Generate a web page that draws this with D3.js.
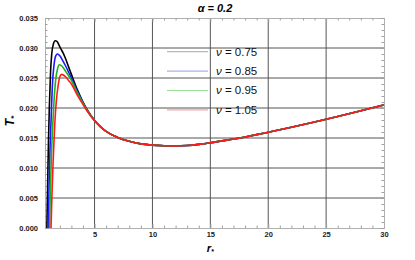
<!DOCTYPE html>
<html>
<head>
<meta charset="utf-8">
<script src="https://cdn.jsdelivr.net/npm/d3@7"></script>
<style>
  body { margin: 0; background: #fff; }
  #chart { width: 415px; height: 260px; }
  text { font-family: "Liberation Sans", Arial, sans-serif; }
</style>
</head>
<body>
<div id="chart"></div>
<script>

// values
var nuLabels = ["0.75", "0.85", "0.95", "1.05"];
var colors = ["#000000", "#1a1aff", "#1db31d", "#ff1a1a"];
var legendColors = ["#b8b8b8", "#aab0f0", "#98e098", "#f4a8a8"];

// near-horizon part of each curve
var rHead = [
  [0.88, 0.95, 1.02, 1.10, 1.20, 1.30, 1.45, 1.60, 1.75, 1.90, 2.05, 2.25, 2.50, 2.75, 3.00, 3.50, 4.00, 4.50],
  [1.00, 1.07, 1.15, 1.24, 1.35, 1.50, 1.65, 1.80, 2.00, 2.25, 2.50, 2.75, 3.00, 3.50, 4.00, 4.50],
  [1.11, 1.18, 1.27, 1.39, 1.50, 1.65, 1.80, 1.95, 2.10, 2.30, 2.50, 2.75, 3.00, 3.50, 4.00, 4.50],
  [1.24, 1.32, 1.42, 1.56, 1.70, 1.85, 2.00, 2.15, 2.30, 2.50, 2.75, 3.00, 3.50, 4.00, 4.50]
];
var tHead = [
  [0, 0.0075, 0.0145, 0.0205, 0.0260, 0.0290, 0.0307, 0.0312, 0.0311, 0.0306, 0.0300, 0.0293, 0.0282, 0.0269, 0.0256, 0.0231, 0.0210, 0.0193],
  [0, 0.0070, 0.0130, 0.0178, 0.0235, 0.0272, 0.0287, 0.0290, 0.0287, 0.0279, 0.0270, 0.0260, 0.0250, 0.0228, 0.0209, 0.0192],
  [0, 0.0060, 0.0118, 0.0172, 0.0212, 0.0248, 0.0265, 0.0272, 0.0271, 0.0267, 0.0261, 0.0254, 0.0246, 0.0226, 0.0208, 0.0192],
  [0, 0.0055, 0.0110, 0.0172, 0.0212, 0.0237, 0.0252, 0.0256, 0.0255, 0.0252, 0.0246, 0.0240, 0.0222, 0.0206, 0.0191]
];

// common tail, all four curves coincide here
var rTail = [5, 5.5, 6, 7, 8, 9, 10, 11, 12, 13, 14, 15, 16, 17, 18, 19, 20, 22, 24, 26, 28, 30];
var tTail = [0.0179, 0.0169, 0.0161, 0.0151, 0.01445, 0.01402, 0.01382, 0.01372, 0.01368, 0.01376, 0.01394, 0.0142, 0.01452, 0.01483, 0.01518, 0.01556, 0.01596, 0.01678, 0.01766, 0.01858, 0.01955, 0.0205];

var xTicks = [5, 10, 15, 20, 25, 30];
var yTicks = [0, 0.005, 0.010, 0.015, 0.020, 0.025, 0.030, 0.035];

var margin = {top: 18, right: 31, bottom: 32, left: 45},
    width = 415 - margin.left - margin.right,
    height = 260 - margin.top - margin.bottom;

var svg = d3.select("#chart").append("svg")
    .attr("width", width + margin.left + margin.right)
    .attr("height", height + margin.top + margin.bottom)
  .append("g")
    .attr("transform", "translate(" + margin.left + "," + margin.top + ")");

var x = d3.scaleLinear().domain([0.72, 30]).range([0, width]),
    y = d3.scaleLinear().domain([0, 0.035]).range([height, 0]);

var xMinor = d3.range(1, 31).filter(function(d) { return d % 5 != 0; }),
    yMinor = d3.range(0, 36).filter(function(d) { return d % 5 != 0; }).map(function(d) { return d / 1000; });

// grid
svg.append("g").selectAll("line")
    .data(xTicks.slice(0, -1))
    .enter().append("line")
      .attr("x1", function(d) { return x(d); })
      .attr("x2", function(d) { return x(d); })
      .attr("y1", 0).attr("y2", height)
      .attr("stroke", "#555").attr("stroke-width", 1);

svg.append("g").selectAll("line")
    .data(yTicks.slice(1, -1))
    .enter().append("line")
      .attr("y1", function(d) { return y(d); })
      .attr("y2", function(d) { return y(d); })
      .attr("x1", 0).attr("x2", width)
      .attr("stroke", "#555").attr("stroke-width", 1);

// frame axes with inward ticks
function styleAxis(g) {
  g.select(".domain").attr("stroke", "#b0b0b0");
  g.selectAll(".tick line").attr("stroke", "#a0a0a0");
  g.selectAll(".tick text")
    .style("font-family", "Liberation Sans, Arial, sans-serif")
    .style("font-size", "7.5px")
    .style("font-weight", "bold")
    .attr("fill", "#222");
}

svg.append("g")
    .attr("transform", "translate(0," + height + ")")
    .call(d3.axisBottom(x).tickValues(xTicks).tickSize(-4).tickPadding(4).tickSizeOuter(0))
    .call(styleAxis);
svg.append("g")
    .attr("transform", "translate(0," + height + ")")
    .call(d3.axisBottom(x).tickValues(xMinor).tickSize(-2.5).tickFormat("").tickSizeOuter(0))
    .call(styleAxis);
svg.append("g")
    .call(d3.axisTop(x).tickValues(xTicks).tickSize(-4).tickFormat("").tickSizeOuter(0))
    .call(styleAxis);
svg.append("g")
    .call(d3.axisTop(x).tickValues(xMinor).tickSize(-2.5).tickFormat("").tickSizeOuter(0))
    .call(styleAxis);

svg.append("g")
    .call(d3.axisLeft(y).tickValues(yTicks).tickSize(-4).tickPadding(7).tickFormat(d3.format(".3f")).tickSizeOuter(0))
    .call(styleAxis);
svg.append("g")
    .call(d3.axisLeft(y).tickValues(yMinor).tickSize(-2.5).tickFormat("").tickSizeOuter(0))
    .call(styleAxis);
svg.append("g")
    .attr("transform", "translate(" + width + ",0)")
    .call(d3.axisRight(y).tickValues(yTicks).tickSize(-4).tickFormat("").tickSizeOuter(0))
    .call(styleAxis);
svg.append("g")
    .attr("transform", "translate(" + width + ",0)")
    .call(d3.axisRight(y).tickValues(yMinor).tickSize(-2.5).tickFormat("").tickSizeOuter(0))
    .call(styleAxis);

// curves
var line = d3.line()
    .x(function(d) { return x(d[0]); })
    .y(function(d) { return y(d[1]); })
    .curve(d3.curveMonotoneX);

var curves = rHead.map(function(rs, i) {
  var pts = rs.map(function(r, j) { return [r, tHead[i][j]]; });
  return pts.concat(rTail.map(function(r, j) { return [r, tTail[j]]; }));
});

svg.append("g").selectAll("path")
    .data(curves)
    .enter().append("path")
      .attr("d", line)
      .attr("fill", "none")
      .attr("stroke", function(d, i) { return colors[i]; })
      .attr("stroke-width", 1.6);

// legend
var legend = svg.append("g").selectAll("g")
    .data(nuLabels)
    .enter().append("g")
      .attr("transform", function(d, i) { return "translate(122," + (33.7 + i * 19.4) + ")"; });

legend.append("line")
    .attr("x1", 0).attr("x2", 41)
    .attr("stroke", function(d, i) { return legendColors[i]; })
    .attr("stroke-width", 1.2);

var lt = legend.append("text")
    .attr("x", 49).attr("y", 3.8)
    .attr("font-size", "11.5px")
    .attr("fill", "#111");
lt.append("tspan").attr("font-style", "italic").text("ν");
lt.append("tspan").text(function(d) { return " = " + d; });

// title and axis labels
svg.append("text")
    .attr("x", x(15.4)).attr("y", -6)
    .attr("text-anchor", "middle")
    .attr("font-size", "11px")
    .attr("font-weight", "bold")
    .attr("font-style", "italic")
    .text("α = 0.2");

var xl = svg.append("text")
    .attr("x", x(15)).attr("y", height + 24)
    .attr("text-anchor", "middle")
    .attr("font-size", "11px")
    .attr("font-weight", "bold")
    .attr("font-style", "italic");
xl.append("tspan").text("r");
xl.append("tspan").attr("font-size", "7px").attr("dy", 2).text("*");

var yl = svg.append("text")
    .attr("transform", "translate(-31," + (height / 2 - 2) + ") rotate(-90)")
    .attr("text-anchor", "middle")
    .attr("font-size", "12px")
    .attr("font-weight", "bold")
    .attr("font-style", "italic");
yl.append("tspan").text("T");
yl.append("tspan").attr("font-size", "8px").attr("dy", 2).text("*");

</script>
</body>
</html>
